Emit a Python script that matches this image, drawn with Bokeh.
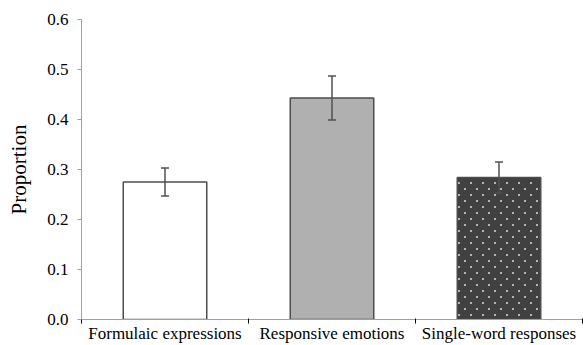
import numpy as np
import base64
from bokeh.plotting import figure
from bokeh.models import ColumnDataSource, FixedTicker, Whisker, Range1d, ImageURLTexture
from bokeh.embed import file_html
from bokeh.resources import INLINE

categories = ["Formulaic expressions", "Responsive emotions", "Single-word responses"]
proportions = [0.275, 0.443, 0.284]
errors = [0.028, 0.044, 0.031]
fills = ["#ffffff", "#b0b0b0", "#414141"]
hatches = [" ", " ", "dots"]
y_ticks = [0.0, 0.1, 0.2, 0.3, 0.4, 0.5, 0.6]

FONT = "Liberation Serif"

x = np.arange(len(categories)) + 0.5
vals = np.array(proportions)
errs = np.array(errors)
src = ColumnDataSource(dict(x=x, top=vals, fill=fills, hatch=hatches,
                            upper=vals + errs, lower=vals - errs))

# staggered dot texture
tile = ('<svg xmlns="http://www.w3.org/2000/svg" width="12" height="12">'
        '<rect x="2" y="2" width="2" height="2" fill="#b5b5b5"/>'
        '<rect x="8" y="8" width="2" height="2" fill="#b5b5b5"/></svg>')
tex = ImageURLTexture(url="data:image/svg+xml;base64," + base64.b64encode(tile.encode()).decode())

p = figure(width=583, height=345, output_backend="svg", toolbar_location=None,
           x_range=Range1d(0, len(categories)), y_range=Range1d(0, 0.6),
           min_border_left=81, min_border_right=1, min_border_top=19, min_border_bottom=26)
p.outline_line_color = None
p.grid.visible = False
p.background_fill_color = "white"

p.vbar(x="x", top="top", width=0.5, source=src, fill_color="fill",
       line_color="#4d4d4d", line_width=1.5,
       hatch_pattern="hatch", hatch_extra={"dots": tex})

w = Whisker(base="x", upper="upper", lower="lower", source=src,
            line_color="#505050", line_width=1.5, level="overlay")
w.upper_head.size = 8
w.lower_head.size = 8
w.upper_head.line_color = "#505050"
w.lower_head.line_color = "#505050"
w.upper_head.line_width = 1.5
w.lower_head.line_width = 1.5
p.add_layout(w)

# x axis: labels at category centers, ticks at category boundaries
p.xaxis.ticker = FixedTicker(ticks=list(x), minor_ticks=list(range(len(categories) + 1)))
p.xaxis.major_label_overrides = {float(xi): c for xi, c in zip(x, categories)}
p.xaxis.major_tick_out = 0
p.xaxis.major_tick_in = 0
p.xaxis.minor_tick_out = 4
p.xaxis.minor_tick_in = 1
p.xaxis.minor_tick_line_color = "#000000"
p.xaxis.axis_line_color = "#a0a0a0"
p.xaxis.major_label_text_font = FONT
p.xaxis.major_label_text_font_size = "17px"
p.xaxis.major_label_text_color = "#000000"
p.xaxis.major_label_standoff = 0

p.yaxis.ticker = FixedTicker(ticks=y_ticks, minor_ticks=[])
p.yaxis.major_label_overrides = {t: f"{t:.1f}" for t in y_ticks}
p.yaxis.axis_line_color = "#a0a0a0"
p.yaxis.major_tick_line_color = "#a0a0a0"
p.yaxis.major_tick_out = 4
p.yaxis.major_tick_in = 0
p.yaxis.major_label_text_font = FONT
p.yaxis.major_label_text_font_size = "17px"
p.yaxis.major_label_text_color = "#000000"
p.yaxis.major_label_standoff = 9
p.yaxis.axis_label = "Proportion"
p.yaxis.axis_label_text_font = FONT
p.yaxis.axis_label_text_font_style = "normal"
p.yaxis.axis_label_text_font_size = "21px"
p.yaxis.axis_label_text_color = "#000000"
p.yaxis.axis_label_standoff = 13

open("out.html", "w").write(file_html(p, INLINE))
